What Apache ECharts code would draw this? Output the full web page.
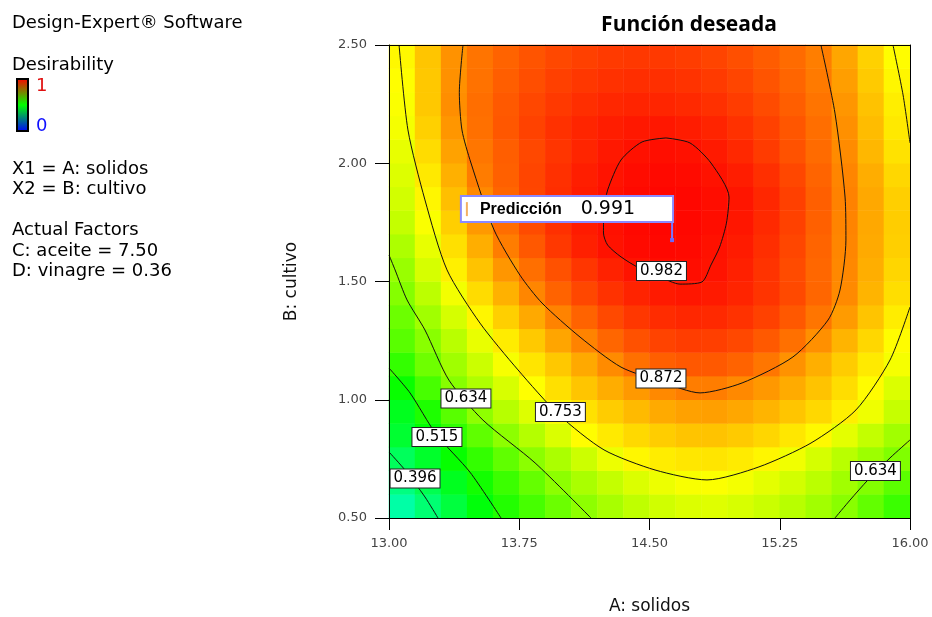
<!DOCTYPE html>
<html>
<head>
<meta charset="utf-8">
<script src="https://cdn.jsdelivr.net/npm/echarts@6/dist/echarts.min.js"></script>
<style>
html,body{margin:0;padding:0;background:#fff;}
#c{width:932px;height:617px;}
</style>
</head>
<body>
<div id="c"></div>
<script>
// ---------- data ----------
const xTicks = [13.00, 13.75, 14.50, 15.25, 16.00];
const yTicks = [0.50, 1.00, 1.50, 2.00, 2.50];

// heatmap cell centres (A: solidos, B: cultivo)
const xCenters = ['13.075','13.225','13.375','13.525','13.675','13.825','13.975','14.125','14.275','14.425',
                  '14.575','14.725','14.875','15.025','15.175','15.325','15.475','15.625','15.775','15.925'];
const yCenters = ['0.55','0.65','0.75','0.85','0.95','1.05','1.15','1.25','1.35','1.45',
                  '1.55','1.65','1.75','1.85','1.95','2.05','2.15','2.25','2.35','2.45'];

// desirability estimated per cell, one row per yCenter (bottom to top)
const desirability = [
 [0.337,0.388,0.439,0.490,0.533,0.569,0.605,0.639,0.665,0.687,0.704,0.716,0.719,0.711,0.698,0.680,0.659,0.634,0.596,0.557],
 [0.374,0.422,0.470,0.518,0.558,0.598,0.638,0.667,0.692,0.715,0.732,0.744,0.747,0.739,0.724,0.706,0.683,0.658,0.627,0.589],
 [0.411,0.458,0.506,0.550,0.594,0.636,0.668,0.700,0.732,0.758,0.768,0.774,0.775,0.770,0.759,0.736,0.709,0.681,0.654,0.625],
 [0.452,0.499,0.546,0.593,0.638,0.676,0.714,0.752,0.771,0.787,0.799,0.808,0.809,0.802,0.790,0.774,0.756,0.724,0.691,0.658],
 [0.471,0.528,0.586,0.640,0.679,0.717,0.755,0.779,0.800,0.818,0.833,0.842,0.844,0.836,0.824,0.807,0.788,0.766,0.734,0.694],
 [0.508,0.570,0.632,0.672,0.711,0.750,0.780,0.807,0.830,0.850,0.866,0.877,0.877,0.866,0.851,0.832,0.809,0.783,0.753,0.715],
 [0.550,0.608,0.657,0.699,0.742,0.775,0.804,0.834,0.864,0.890,0.907,0.914,0.913,0.903,0.884,0.857,0.828,0.800,0.771,0.741],
 [0.587,0.634,0.681,0.728,0.769,0.803,0.838,0.872,0.900,0.921,0.934,0.940,0.938,0.929,0.913,0.890,0.859,0.824,0.789,0.753],
 [0.606,0.658,0.709,0.759,0.797,0.834,0.872,0.903,0.928,0.946,0.957,0.962,0.960,0.951,0.936,0.914,0.885,0.848,0.808,0.768],
 [0.630,0.684,0.738,0.784,0.826,0.869,0.903,0.930,0.951,0.966,0.975,0.978,0.975,0.965,0.949,0.928,0.900,0.865,0.824,0.782],
 [0.650,0.710,0.765,0.809,0.853,0.891,0.921,0.947,0.967,0.981,0.987,0.987,0.981,0.969,0.950,0.926,0.899,0.867,0.829,0.790],
 [0.670,0.727,0.780,0.829,0.877,0.914,0.945,0.969,0.982,0.990,0.993,0.991,0.983,0.974,0.955,0.931,0.902,0.869,0.833,0.797],
 [0.692,0.745,0.797,0.850,0.893,0.926,0.953,0.974,0.984,0.992,0.995,0.993,0.987,0.978,0.960,0.936,0.906,0.871,0.835,0.799],
 [0.706,0.759,0.813,0.866,0.901,0.931,0.955,0.974,0.984,0.991,0.994,0.993,0.987,0.979,0.962,0.937,0.907,0.873,0.835,0.797],
 [0.717,0.772,0.827,0.878,0.906,0.932,0.953,0.971,0.981,0.988,0.991,0.989,0.982,0.972,0.954,0.930,0.902,0.870,0.830,0.789],
 [0.727,0.784,0.841,0.884,0.908,0.929,0.948,0.964,0.976,0.983,0.986,0.983,0.975,0.961,0.942,0.920,0.895,0.864,0.821,0.778],
 [0.740,0.796,0.853,0.890,0.915,0.935,0.952,0.964,0.972,0.976,0.977,0.973,0.965,0.952,0.936,0.916,0.892,0.859,0.816,0.772],
 [0.746,0.804,0.861,0.892,0.913,0.930,0.944,0.955,0.962,0.965,0.964,0.960,0.953,0.941,0.926,0.908,0.886,0.853,0.810,0.767],
 [0.751,0.804,0.858,0.888,0.908,0.924,0.937,0.946,0.952,0.955,0.954,0.950,0.943,0.932,0.918,0.901,0.880,0.845,0.802,0.759],
 [0.757,0.807,0.857,0.886,0.903,0.918,0.929,0.937,0.943,0.945,0.944,0.940,0.933,0.923,0.910,0.895,0.876,0.837,0.795,0.752]
];

// contour lines [A, B]
const contour0982 = [[14.595,2.107],[14.733,2.086],[14.854,2.001],[14.958,1.857],[14.943,1.747],[14.904,1.646],
  [14.854,1.570],[14.802,1.498],[14.676,1.489],[14.560,1.519],[14.440,1.557],[14.336,1.604],[14.259,1.654],
  [14.235,1.705],[14.238,1.802],[14.259,1.887],[14.336,2.014],[14.457,2.090],[14.595,2.107]];
const contour0872 = [[13.426,2.500],[13.405,2.300],[13.420,2.141],[13.472,2.001],[13.605,1.718],[13.754,1.527],
  [13.881,1.409],[14.100,1.265],[14.336,1.138],[14.572,1.075],[14.791,1.029],[15.033,1.071],[15.326,1.181],
  [15.528,1.337],[15.597,1.464],[15.631,1.675],[15.626,1.857],[15.568,2.212],[15.487,2.500]];
const contour0753 = [[13.058,2.500],[13.109,2.141],[13.207,1.845],[13.334,1.549],[13.524,1.324],[13.743,1.126],
  [13.979,0.936],[14.238,0.788],[14.532,0.703],[14.831,0.661],[15.130,0.716],[15.430,0.817],[15.689,0.957],
  [15.885,1.168],[16.000,1.392]];
const contour0753b = [[15.902,2.500],[15.960,2.289],[16.000,2.086]];
const contour0634 = [[13.000,1.612],[13.035,1.549],[13.104,1.422],[13.207,1.295],[13.345,1.083],[13.541,0.914],
  [13.841,0.733],[14.163,0.500]];
const contour0634b = [[16.000,0.830],[15.885,0.754],[15.758,0.661],[15.655,0.576],[15.568,0.500]];
const contour0515 = [[13.000,1.134],[13.121,1.029],[13.271,0.855],[13.466,0.694],[13.645,0.500]];
const contour0396 = [[13.000,0.779],[13.092,0.703],[13.207,0.589],[13.282,0.500]];

const contourLabels = [
  {name:'0.982', value:[14.569,1.544]},
  {name:'0.872', value:[14.566,1.090]},
  {name:'0.753', value:[13.987,0.948]},
  {name:'0.634', value:[13.443,1.005]},
  {name:'0.515', value:[13.276,0.842]},
  {name:'0.396', value:[13.150,0.667]},
  {name:'0.634', value:[15.801,0.699]}
];

const predictionPoint = [14.630, 1.675];
const predictionLeader = [[14.630,1.675],[14.630,1.756]];
const predictionValue = '0.991';

// ---------- chart ----------
const chart = echarts.init(document.getElementById('c'), null, {renderer:'canvas'});
const heatData = [];
desirability.forEach((row, j) => row.forEach((v, i) => heatData.push([i, j, v])));

const F = '"DejaVu Sans", sans-serif';
const contourList = [contour0982, contour0872, contour0753, contour0753b, contour0634, contour0634b, contour0515, contour0396];

const series = [{
  type:'heatmap', xAxisIndex:1, yAxisIndex:1, data:heatData,
  itemStyle:{borderWidth:0}, emphasis:{disabled:true}, progressive:0, z:1
}];
contourList.forEach(c => series.push({
  type:'line', xAxisIndex:0, yAxisIndex:0, data:c, symbol:'none', showSymbol:false,
  smooth:0.25, lineStyle:{color:'#111', width:1}, emphasis:{disabled:true}, z:3, silent:true
}));
series.push({
  type:'scatter', xAxisIndex:0, yAxisIndex:0, data:contourLabels, symbolSize:2,
  itemStyle:{color:'rgba(0,0,0,0)', opacity:1}, z:5, silent:true,
  label:{show:true, position:'inside', formatter:'{b}', color:'#000', fontFamily:F, fontSize:15,
    backgroundColor:'#fff', borderColor:'#222', borderWidth:1, padding:[1,3,0,3], lineHeight:17}
});
series.push({
  type:'line', xAxisIndex:0, yAxisIndex:0, data:predictionLeader, symbol:'none',
  lineStyle:{color:'#7878ff', width:2}, z:6, silent:true
});
series.push({
  type:'scatter', xAxisIndex:0, yAxisIndex:0, data:[predictionPoint], symbol:'rect', symbolSize:4,
  itemStyle:{color:'#6a6aff', opacity:1}, z:7, silent:true,
  label:{show:true, position:[2,-17], align:'right', verticalAlign:'bottom',
    formatter:'{c| }{s| }{a|Predicción}{t| }{b|' + predictionValue + '}{e| }',
    backgroundColor:'#fff', borderColor:'#8a8aff', borderWidth:2, padding:[3,4,3,4],
    rich:{
      c:{width:2, height:14, backgroundColor:'#f3b060', lineHeight:18},
      s:{width:12, lineHeight:18},
      a:{fontFamily:'"Liberation Sans", Arial, sans-serif', fontWeight:'bold', fontSize:16, color:'#000', lineHeight:18},
      t:{width:19, lineHeight:18},
      b:{fontFamily:F, fontSize:19, color:'#000', lineHeight:18},
      e:{width:33, lineHeight:18}
    }}
});

const txt = (t, x, y, extra) => Object.assign({type:'text', x:x, y:y, silent:true,
  style:{text:t, font:'18px ' + F, fill:'#000', verticalAlign:'middle'}}, extra || {});

chart.setOption({
  animation:false,
  backgroundColor:'#fff',
  grid:{left:389, top:45, width:521, height:473, containLabel:false, outerBoundsMode:'none'},
  visualMap:{type:'continuous', show:false, min:0, max:1, seriesIndex:0,
    inRange:{color:['#0000ff','#00ffff','#00ff00','#ffff00','#ff0000']}},
  xAxis:[{
    type:'value', min:xTicks[0], max:xTicks[xTicks.length-1], interval:xTicks[1]-xTicks[0], z:8,
    axisLine:{show:true, onZero:false, lineStyle:{color:'#000', width:1}},
    axisTick:{show:true, length:12, lineStyle:{color:'#000'}},
    axisLabel:{formatter:v => v.toFixed(2), color:'#444', fontFamily:F, fontSize:13, margin:19},
    splitLine:{show:false},
    name:'A: solidos', nameLocation:'middle', nameGap:80,
    nameTextStyle:{fontFamily:F, fontSize:17, color:'#111'}
  },{
    type:'category', data:xCenters, position:'top', z:8,
    axisLine:{show:true, lineStyle:{color:'#000', width:1}},
    axisTick:{show:false}, axisLabel:{show:false}, splitLine:{show:false}
  }],
  yAxis:[{
    type:'value', min:yTicks[0], max:yTicks[yTicks.length-1], interval:yTicks[1]-yTicks[0], z:8,
    axisLine:{show:true, onZero:false, lineStyle:{color:'#000', width:1}},
    axisTick:{show:true, length:14, lineStyle:{color:'#000'}},
    axisLabel:{formatter:v => v.toFixed(2), color:'#444', fontFamily:F, fontSize:13, margin:22},
    splitLine:{show:false},
    name:'B: cultivo', nameLocation:'middle', nameGap:89,
    nameTextStyle:{fontFamily:F, fontSize:17, color:'#111'}
  },{
    type:'category', data:yCenters, position:'right', z:8,
    axisLine:{show:true, lineStyle:{color:'#000', width:1}},
    axisTick:{show:false}, axisLabel:{show:false}, splitLine:{show:false}
  }],
  graphic:[
    {type:'text', x:689, y:25, silent:true,
      style:{text:'Función deseada', font:'bold 21px "Open Sans", "DejaVu Sans", sans-serif', fill:'#000',
        align:'center', verticalAlign:'middle'}},
    txt('Design-Expert® Software', 12, 23),
    txt('Desirability', 12, 65),
    {type:'rect', silent:true, shape:{x:17, y:79, width:11, height:52},
      style:{fill:new echarts.graphic.LinearGradient(0,0,0,1,[
        {offset:0, color:'#ff0000'},{offset:0.5, color:'#00ff00'},{offset:1, color:'#0000ff'}]),
        stroke:'#000', lineWidth:2}},
    {type:'text', x:36, y:86, silent:true, style:{text:'1', font:'18px ' + F, fill:'#e01010', verticalAlign:'middle'}},
    {type:'text', x:36, y:126, silent:true, style:{text:'0', font:'18px ' + F, fill:'#1010ff', verticalAlign:'middle'}},
    txt('X1 = A: solidos', 12, 169),
    txt('X2 = B: cultivo', 12, 189),
    txt('Actual Factors', 12, 230),
    txt('C: aceite = 7.50', 12, 251),
    txt('D: vinagre = 0.36', 12, 271)
  ],
  series:series
});
</script>
</body>
</html>
